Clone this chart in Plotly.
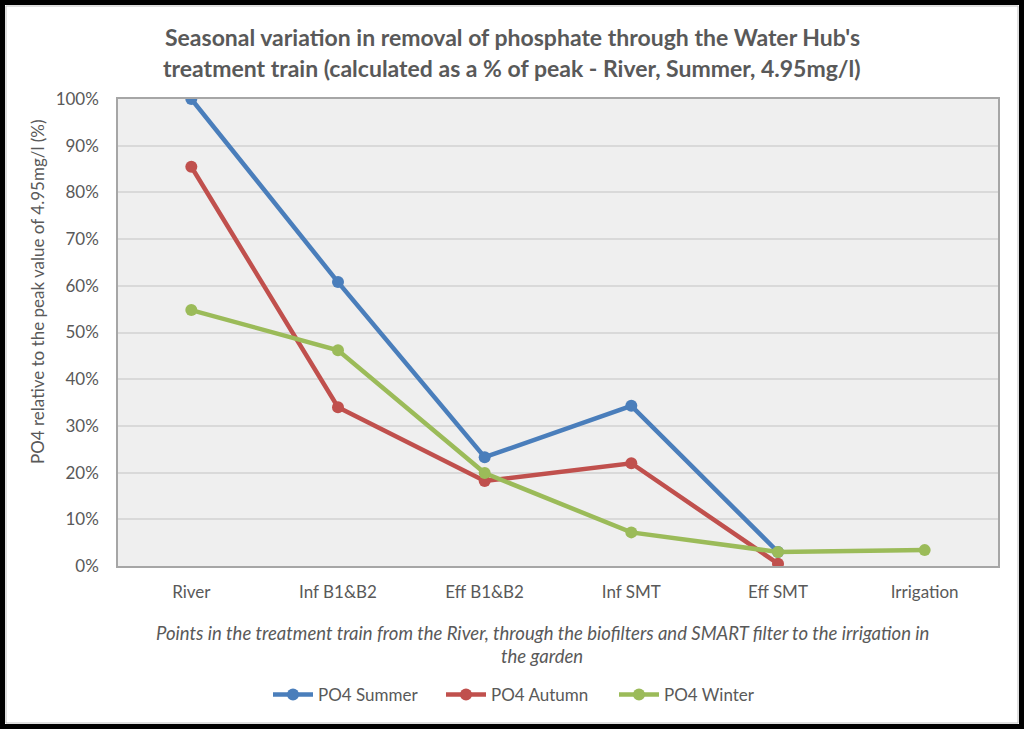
import plotly.graph_objects as go

# points along the treatment train
stages = ["River", "Inf B1&B2", "Eff B1&B2", "Inf SMT", "Eff SMT", "Irrigation"]

# PO4 as % of peak (River, Summer, 4.95mg/l)
po4_summer = [100.0, 60.8, 23.3, 34.3, 3.0, None]
po4_autumn = [85.5, 34.0, 18.2, 22.0, 0.5, None]
po4_winter = [54.8, 46.2, 19.9, 7.2, 3.0, 3.4]

series = [
  ("PO4 Summer", po4_summer, "#4a7ebb"),
  ("PO4 Autumn", po4_autumn, "#c0504d"),
  ("PO4 Winter", po4_winter, "#9bbb59"),
]

W, H = 1024, 729
L, R, T, B = 118, 26, 99, 163
pw, ph = W - L - R, H - T - B

FONT = "Lato"
GREY = "#595959"

fig = go.Figure()

for name, vals, col in series:
  fig.add_trace(go.Scatter(
    x=stages,
    y=vals,
    mode="lines+markers",
    name=name,
    line=dict(color=col, width=4.5),
    marker=dict(color=col, size=12),
  ))

def px_x(x):
  return (x - L) / pw

def px_y(y):
  return (H - B - y) / ph

fig.update_layout(
  width=W,
  height=H,
  margin=dict(l=L, r=R, t=T, b=B),
  paper_bgcolor="white",
  plot_bgcolor="#efefef",
  font=dict(family=FONT, size=17, color=GREY),
  showlegend=True,
  legend=dict(
    orientation="h",
    x=px_x(268), xanchor="left",
    y=px_y(695), yanchor="middle",
    entrywidth=118, entrywidthmode="pixels",
    font=dict(size=17, color=GREY),
    itemwidth=40,
  ),
  xaxis=dict(
    type="category",
    showgrid=False,
    showline=True, linecolor="#a6a6a6", linewidth=1.5, mirror=True,
    ticks="", tickfont=dict(size=17, color=GREY),
    ticklabelstandoff=10,
    range=[-0.5, 5.5],
    fixedrange=True,
  ),
  yaxis=dict(
    range=[0, 100],
    dtick=10,
    ticksuffix="%",
    showgrid=True, gridcolor="#d9d9d9", gridwidth=1.5,
    showline=True, linecolor="#a6a6a6", linewidth=1.5, mirror=True,
    zeroline=False,
    tickfont=dict(size=17, color=GREY),
    ticks="", ticklabelstandoff=14,
  ),
  annotations=[
    dict(
      text="<b>Seasonal variation in removal of phosphate through the Water Hub's</b>",
      xref="paper", yref="paper", x=px_x(512), y=px_y(37),
      xanchor="center", yanchor="middle", showarrow=False,
      font=dict(size=23, color=GREY),
    ),
    dict(
      text="<b>treatment train (calculated as a % of peak - River, Summer, 4.95mg/l)</b>",
      xref="paper", yref="paper", x=px_x(512), y=px_y(68),
      xanchor="center", yanchor="middle", showarrow=False,
      font=dict(size=23, color=GREY),
    ),
    dict(
      text="PO4 relative to the peak value of 4.95mg/l (%)",
      xref="paper", yref="paper", x=px_x(37), y=px_y(292),
      xanchor="center", yanchor="middle", showarrow=False, textangle=-90,
      font=dict(size=17, color=GREY),
    ),
    dict(
      text="<i>Points in the treatment train from the River, through the biofilters and SMART filter to the irrigation in</i>",
      xref="paper", yref="paper", x=px_x(542), y=px_y(633),
      xanchor="center", yanchor="middle", showarrow=False,
      font=dict(size=18.5, color=GREY),
    ),
    dict(
      text="<i>the garden</i>",
      xref="paper", yref="paper", x=px_x(542), y=px_y(656),
      xanchor="center", yanchor="middle", showarrow=False,
      font=dict(size=18.5, color=GREY),
    ),
  ],
  shapes=[
    # thin grey chart border and thick black frame
    dict(type="rect", xref="paper", yref="paper",
         x0=px_x(6), x1=px_x(W - 6), y0=px_y(H - 6), y1=px_y(6),
         line=dict(color="#bfbfbf", width=1), layer="below"),
    dict(type="rect", xref="paper", yref="paper",
         x0=px_x(0), x1=px_x(W), y0=px_y(H), y1=px_y(0),
         line=dict(color="black", width=10), layer="above"),
  ],
)

# drop the default page margin so the figure sits at the window's corner
fig.write_html(
  "out.html",
  config={"displayModeBar": False},
  post_script="document.body.style.margin='0';",
)
